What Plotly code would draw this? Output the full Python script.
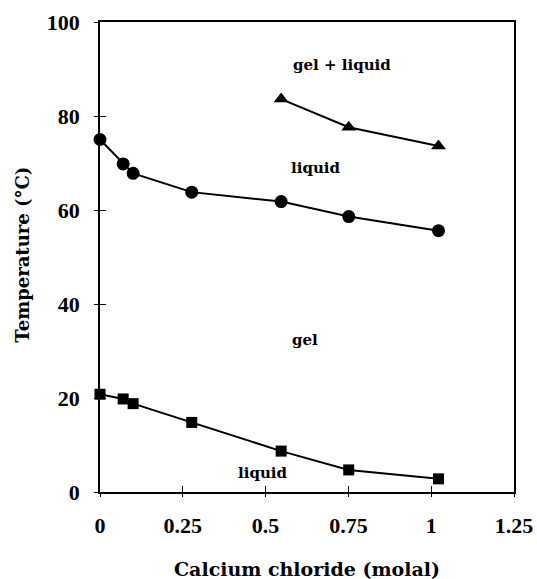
import plotly.graph_objects as go

cacl2 = [0.0, 0.07, 0.10, 0.277, 0.547, 0.751, 1.022]
upper_liquid = [75.0, 69.8, 67.8, 63.8, 61.8, 58.6, 55.6]
lower_gel = [20.8, 19.8, 18.8, 14.8, 8.7, 4.7, 2.8]
tri_x = [0.547, 0.751, 1.022]
tri_y = [83.6, 77.6, 73.6]

x_ticks = [0, 0.25, 0.5, 0.75, 1, 1.25]
x_labels = ["0", "0.25", "0.5", "0.75", "1", "1.25"]
y_ticks = [0, 20, 40, 60, 80, 100]

labels = ["gel + liquid", "liquid", "gel", "liquid"]
label_x = [0.73, 0.65, 0.62, 0.49]
label_y = [90.8, 69.0, 32.3, 4.0]

TICKFONT = "Liberation Serif"
TEXTFONT = "DejaVu Serif"

fig = go.Figure()
fig.add_trace(go.Scatter(x=cacl2, y=upper_liquid, mode="lines+markers",
                         line=dict(color="black", width=2),
                         marker=dict(symbol="circle", size=13, color="black"),
                         showlegend=False, cliponaxis=False))
fig.add_trace(go.Scatter(x=cacl2, y=lower_gel, mode="lines+markers",
                         line=dict(color="black", width=2),
                         marker=dict(symbol="square", size=11, color="black"),
                         showlegend=False, cliponaxis=False))
fig.add_trace(go.Scatter(x=tri_x, y=tri_y, mode="lines+markers",
                         line=dict(color="black", width=2),
                         marker=dict(symbol="triangle-up", size=13, color="black"),
                         showlegend=False, cliponaxis=False))

for t, x, y in zip(labels, label_x, label_y):
    fig.add_annotation(x=x, y=y, text="<b>%s</b>" % t, showarrow=False,
                       font=dict(family=TEXTFONT, size=15, color="black"))

fig.add_annotation(xref="paper", yref="paper", x=0.5, y=-0.163, yanchor="middle",
                   text="<b>Calcium chloride (molal)</b>", showarrow=False,
                   font=dict(family=TEXTFONT, size=19, color="black"))
fig.add_annotation(xref="paper", yref="paper", x=-0.186, y=0.505, xanchor="center",
                   yanchor="middle", textangle=-90,
                   text="<b>Temperature (°C)</b>", showarrow=False,
                   font=dict(family=TEXTFONT, size=18, color="black"))

fig.update_layout(
    width=537, height=579,
    margin=dict(l=100, r=23, t=22, b=87, autoexpand=False),
    paper_bgcolor="white", plot_bgcolor="white",
    font=dict(family=TICKFONT, color="black"),
    xaxis=dict(range=[0, 1.25], tickvals=x_ticks, ticktext=["<b>%s</b>" % s for s in x_labels],
               ticks="outside", ticklen=3, tickcolor="black", showgrid=False, zeroline=False,
               showline=True, linecolor="black", linewidth=1.5, mirror=True,
               tickfont=dict(family=TICKFONT, size=22), automargin=False,
               ticklabelstandoff=10),
    yaxis=dict(range=[0, 100], tickvals=y_ticks, ticktext=["<b>%d</b>" % v for v in y_ticks],
               ticks="outside", ticklen=4, tickcolor="black", showgrid=False, zeroline=False,
               showline=True, linecolor="black", linewidth=1.5, mirror=True,
               tickfont=dict(family=TICKFONT, size=22), automargin=False,
               ticklabelstandoff=10),
    xaxis2=dict(overlaying="x", matches="x", side="bottom", tickvals=x_ticks, ticks="inside",
                ticklen=6, tickcolor="black", showticklabels=False, showgrid=False, zeroline=False),
    yaxis2=dict(overlaying="y", matches="y", side="left", tickvals=y_ticks, ticks="inside",
                ticklen=6, tickcolor="black", showticklabels=False, showgrid=False, zeroline=False),
)
fig.add_trace(go.Scatter(x=[0], y=[0], xaxis="x2", yaxis="y2", mode="markers",
                         marker=dict(opacity=0), showlegend=False, hoverinfo="skip"))

fig.write_html("out.html", config={"displayModeBar": False},
               post_script="document.body.style.margin='0';document.body.style.overflow='hidden';"
                           "document.documentElement.style.overflow='hidden';")
